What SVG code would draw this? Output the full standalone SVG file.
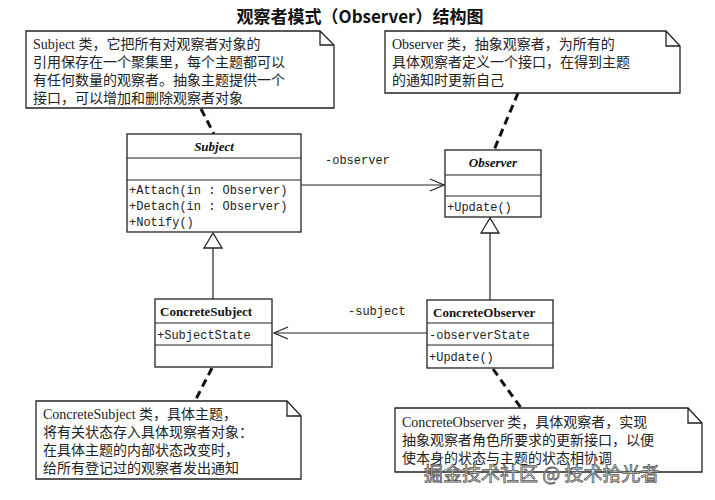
<svg xmlns="http://www.w3.org/2000/svg" width="715" height="500" viewBox="0 0 715 500">
<style>
.b{fill:#fff;stroke:#222;stroke-width:1.3}
.t{font-family:"Liberation Mono","Noto Sans CJK SC",monospace;font-size:12px;fill:#222}
.n{font-family:"Liberation Serif","Noto Sans CJK SC",serif;font-size:14px;fill:#222}
.h{font-family:"Liberation Serif",serif;font-size:13px;font-weight:bold;fill:#111}
.l{stroke:#222;stroke-width:1.2;fill:none}
.d{stroke:#111;stroke-width:3;stroke-dasharray:8,5;fill:none}
</style>
<defs>
<marker id="open" markerWidth="16" markerHeight="14" refX="15" refY="7" orient="auto" markerUnits="userSpaceOnUse"><path d="M1,1 L15,7 L1,13" fill="none" stroke="#222" stroke-width="1.3"/></marker>
</defs>
<rect width="715" height="500" fill="#fff"/>
<text x="360" y="23" text-anchor="middle" font-family="'Noto Sans CJK SC',sans-serif" font-size="17" font-weight="bold" fill="#111">观察者模式（Observer）结构图</text>
<g id="connectors">
<path class="d" d="M201,109 L214,134"/>
<path class="d" d="M518,93 L494,150"/>
<path class="d" d="M212,368 L195,401"/>
<path class="d" d="M493,369 L521,408"/>
<path class="l" d="M301,185 L444,185" marker-end="url(#open)"/>
<text class="t" x="325" y="164">-observer</text>
<path class="l" d="M427,333 L274,333" marker-end="url(#open)"/>
<text class="t" x="348" y="315">-subject</text>
<path class="l" d="M213,248 L213,299"/>
<path class="b" d="M213,233 L204,248 L222,248 Z"/>
<path class="l" d="M490,233 L490,300"/>
<path class="b" d="M490,218 L481,233 L499,233 Z"/>
</g>
<g id="note-subject">
<path class="b" d="M26,31 H320 L334,45 V108 H26 Z M320,31 V45 H334"/>
<text class="n" x="33" y="49">Subject 类，它把所有对观察者对象的</text>
<text class="n" x="33" y="67">引用保存在一个聚集里，每个主题都可以</text>
<text class="n" x="33" y="85">有任何数量的观察者。抽象主题提供一个</text>
<text class="n" x="33" y="103">接口，可以增加和删除观察者对象</text>
</g>
<g id="note-observer">
<path class="b" d="M385,31 H666 L680,46 V93 H385 Z M666,31 V46 H680"/>
<text class="n" x="392" y="49">Observer 类，抽象观察者，为所有的</text>
<text class="n" x="392" y="67">具体观察者定义一个接口，在得到主题</text>
<text class="n" x="392" y="85">的通知时更新自己</text>
</g>
<g id="subject">
<rect class="b" x="127" y="134" width="174" height="98"/>
<path class="l" d="M127,158 H301 M127,180 H301"/>
<text class="h" x="214" y="151" text-anchor="middle" font-style="italic">Subject</text>
<text class="t" x="129" y="194">+Attach(in  : Observer)</text>
<text class="t" x="129" y="210">+Detach(in  : Observer)</text>
<text class="t" x="129" y="226">+Notify()</text>
</g>
<g id="observer">
<rect class="b" x="445" y="150" width="96" height="67"/>
<path class="l" d="M445,175 H541 M445,196 H541"/>
<text class="h" x="493" y="167" text-anchor="middle" font-style="italic">Observer</text>
<text class="t" x="447" y="211">+Update()</text>
</g>
<g id="concrete-subject">
<rect class="b" x="155" y="299" width="117" height="68"/>
<path class="l" d="M155,323 H272 M155,345 H272"/>
<text class="h" x="160" y="316">ConcreteSubject</text>
<text class="t" x="157" y="339">+SubjectState</text>
</g>
<g id="concrete-observer">
<rect class="b" x="427" y="300" width="126" height="68"/>
<path class="l" d="M427,323 H553 M427,345 H553"/>
<text class="h" x="433" y="317">ConcreteObserver</text>
<text class="t" x="429" y="339">-observerState</text>
<text class="t" x="429" y="361">+Update()</text>
</g>
<g id="note-concrete-subject">
<path class="b" d="M36,401 H287 L301,416 V479 H36 Z M287,401 V416 H301"/>
<text class="n" x="43" y="419">ConcreteSubject 类，具体主题，</text>
<text class="n" x="43" y="437">将有关状态存入具体现察者对象：</text>
<text class="n" x="43" y="455">在具体主题的内部状态改变时，</text>
<text class="n" x="43" y="473">给所有登记过的观察者发出通知</text>
</g>
<g id="note-concrete-observer">
<path class="b" d="M395,408 H688 L702,423 V472 H395 Z M688,408 V423 H702"/>
<text class="n" x="402" y="427">ConcreteObserver 类，具体观察者，实现</text>
<text class="n" x="402" y="445">抽象观察者角色所要求的更新接口，以便</text>
<text class="n" x="402" y="463">使本身的状态与主题的状态相协调</text>
</g>
<text x="424" y="481" font-family="'Noto Sans CJK SC',sans-serif" font-size="19" fill="#fff" stroke="#555" stroke-width="0.8">掘金技术社区 @ 技术拾光者</text>
</svg>
